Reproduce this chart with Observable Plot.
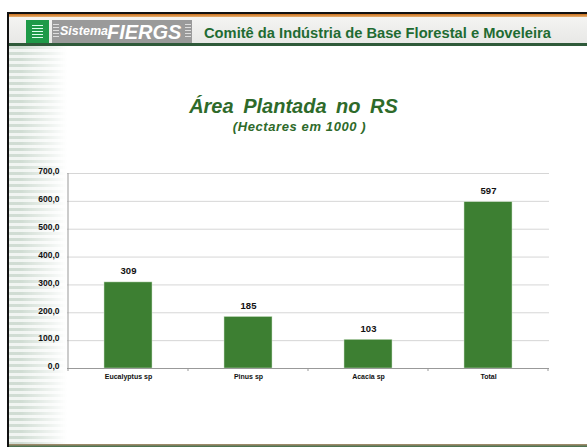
<!DOCTYPE html>
<html><head><meta charset="utf-8">
<script src="https://cdn.jsdelivr.net/npm/d3@7"></script>
<script src="https://cdn.jsdelivr.net/npm/@observablehq/plot@0.6"></script>
<style>
html,body{margin:0;padding:0;background:#fff;}
#slide{position:relative;width:587px;height:447px;overflow:hidden;background:#fff;font-family:"Liberation Sans",Arial,sans-serif;}
#topblack{position:absolute;left:7px;top:12px;width:580px;height:2px;background:#111;}
#toporange{position:absolute;left:9px;top:14px;width:578px;height:3px;background:linear-gradient(#c8701e,#e8b070);}
#band{position:absolute;left:9px;top:17px;width:578px;height:26px;background:linear-gradient(#f4f4f2,#e8e8e6);}
#bandline{position:absolute;left:9px;top:43px;width:578px;height:3px;background:#2f5a3a;}
#leftblack{position:absolute;left:7px;top:12px;width:2px;height:435px;background:#111;}
#stripes{position:absolute;left:9px;top:46px;width:58px;height:398px;
 background:repeating-linear-gradient(180deg,rgba(170,192,175,0.55) 0 3px,rgba(215,226,217,0.35) 3px 6px);
 -webkit-mask-image:linear-gradient(90deg,#000 0,#000 20%,transparent 100%);mask-image:linear-gradient(90deg,#000 0,#000 20%,transparent 100%);}
#bottomline{position:absolute;left:9px;top:444px;width:578px;height:3px;background:linear-gradient(#b09070,#3c6e4c);}
#logo{position:absolute;left:26px;top:20px;width:23px;height:23px;background:#1e9a48;}
#logo div{margin:5px 6px;height:13px;background:repeating-linear-gradient(180deg,#dfe 0 1px,transparent 1px 3px);}
#sis{position:absolute;left:52px;top:20px;width:140px;height:23px;background:#9a9a9a;color:#fff;font-style:italic;font-weight:bold;white-space:nowrap;}
#sis .st{position:absolute;top:4px;width:6px;height:15px;background:repeating-linear-gradient(180deg,#ddd 0 1px,transparent 1px 3px);}
#sis .s{position:absolute;left:8px;top:4px;font-size:12.5px;}
#sis .f{position:absolute;left:55px;top:1px;font-size:20px;}
#htext{position:absolute;left:204px;top:25px;font-size:14.7px;font-weight:bold;color:#1f6b32;white-space:nowrap;}
#title{position:absolute;left:0;width:587px;top:95px;text-align:center;font-size:20px;font-weight:bold;font-style:italic;color:#2e6a2a;word-spacing:4px;}
#sub{position:absolute;left:0;width:587px;top:119px;text-align:center;font-size:13px;font-weight:bold;font-style:italic;color:#2e6a2a;letter-spacing:0.6px;margin-left:6px;}
#chart{position:absolute;left:0;top:160px;}
</style></head>
<body>
<div id="slide">
 <div id="stripes"></div>
 <div id="topblack"></div><div id="toporange"></div><div id="band"></div><div id="bandline"></div>
 <div id="leftblack"></div><div id="bottomline"></div>
 <div id="logo"><div></div></div>
 <div id="sis"><div class="st" style="left:1px"></div><div class="st" style="left:133px"></div><span class="s">Sistema</span><span class="f">FIERGS</span></div>
 <div id="htext">Comitê da Indústria de Base Florestal e Moveleira</div>
 <div id="title">Área Plantada no RS</div>
 <div id="sub">(Hectares em 1000 )</div>
 <div id="chart"></div>
</div>
<script>
const categories = ["Eucalyptus sp", "Pinus sp", "Acacia sp", "Total"];
const values = [309, 185, 103, 597];
const yTicks = [0, 100, 200, 300, 400, 500, 600, 700];

const data = categories.map((c, i) => ({category: c, value: values[i]}));
const fmt = d => d.toFixed(1).replace(".", ",");

const plot = Plot.plot({
  width: 587,
  height: 230,
  marginLeft: 67,
  marginRight: 38,
  marginTop: 13,
  marginBottom: 22,
  style: {fontFamily: "'Liberation Sans', Arial, sans-serif", background: "transparent", overflow: "visible", color: "#111"},
  x: {domain: categories, paddingInner: 0.6, paddingOuter: 0.3, label: null, axis: null},
  y: {domain: [0, 700], ticks: yTicks, label: null, axis: null},
  marks: [
    Plot.ruleY(yTicks.filter(d => d > 0), {stroke: "#d6d6d6", strokeWidth: 1}),
    Plot.barY(data, {x: "category", y: "value", fill: "#3d7f32", stroke: "#cfe3c9", strokeWidth: 0.5}),
    Plot.ruleY([0], {stroke: "#999", strokeWidth: 1}),
    Plot.axisY({ticks: yTicks, tickFormat: fmt, tickSize: 0, tickPadding: 8, dy: -2, fontSize: 8.5, fontWeight: "bold", fill: "#111"}),
    Plot.axisX({tickSize: 0, tickPadding: 6, fontSize: 7, fontWeight: "bold", fill: "#111"}),
    Plot.text(data, {x: "category", y: "value", text: d => String(d.value), dy: -11, fontSize: 9.5, fontWeight: "bold", fill: "#111"})
  ]
});
document.getElementById("chart").appendChild(plot);

// left axis line and band-separator ticks, positioned through the scales
const svg = d3.select(plot);
const xs = plot.scale("x"), ys = plot.scale("y");
const step = xs.step;
const y0 = ys.apply(0), yTop = ys.apply(700);
const left = xs.apply(categories[0]) - (step - xs.bandwidth) / 2;
svg.append("line").attr("x1", left).attr("x2", left).attr("y1", yTop).attr("y2", y0 + 3).attr("stroke", "#999");
categories.forEach((c, i) => {
  const xb = left + step * (i + 1);
  svg.append("line").attr("x1", xb).attr("x2", xb).attr("y1", y0).attr("y2", y0 + 3).attr("stroke", "#999");
});
</script>
</body></html>
